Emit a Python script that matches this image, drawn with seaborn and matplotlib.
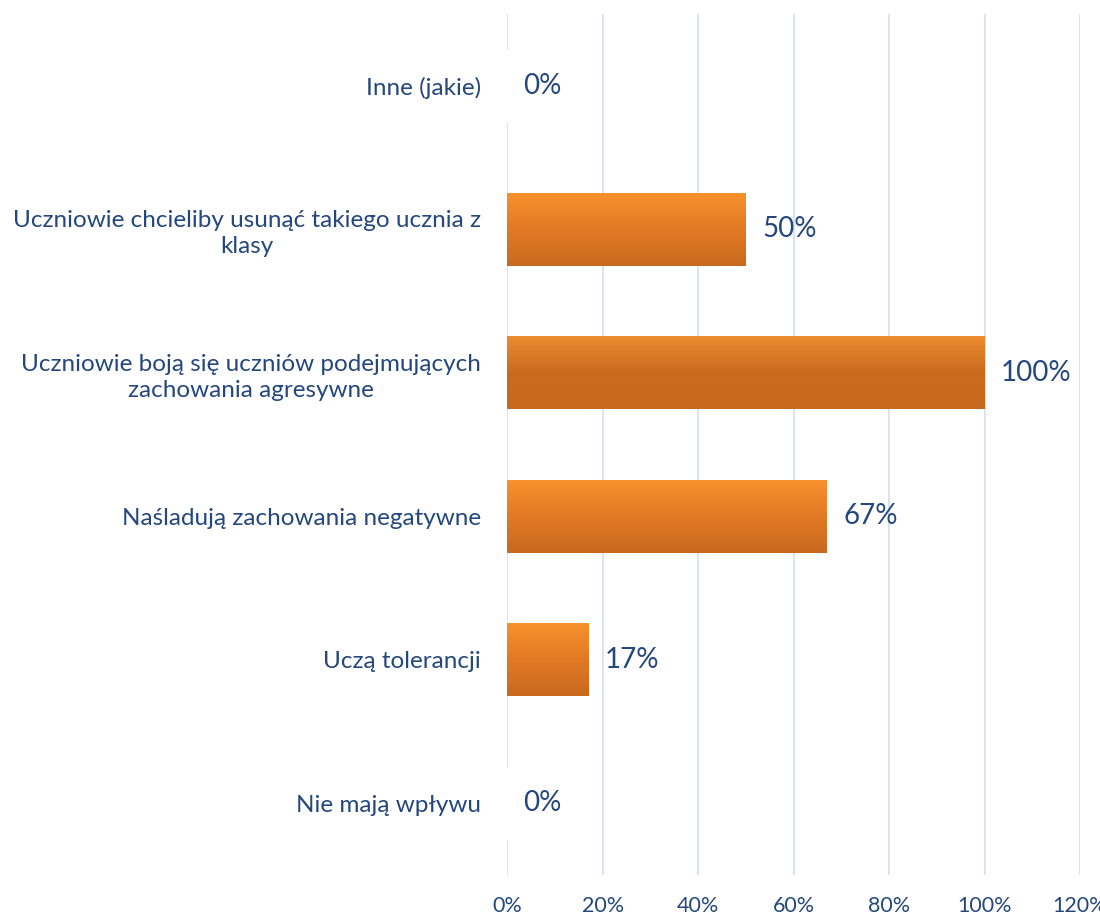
import matplotlib
matplotlib.use("Agg")
import matplotlib.pyplot as plt
import numpy as np
import pandas as pd
import seaborn as sns
from matplotlib.colors import LinearSegmentedColormap

# dane z wykresu (od góry do dołu)
kategorie = [
    "Inne (jakie)",
    "Uczniowie chcieliby usunąć takiego ucznia z\nklasy",
    "Uczniowie boją się uczniów podejmujących\nzachowania agresywne",
    "Naśladują zachowania negatywne",
    "Uczą tolerancji",
    "Nie mają wpływu",
]
wartosci = [0, 50, 100, 67, 17, 0]
x_ticks = [0, 20, 40, 60, 80, 100, 120]

TEXT = "#24477E"
GRID = "#D6E1F1"

sns.set_theme(style="white")
plt.rcParams["font.family"] = ["Lato", "DejaVu Sans"]

df = pd.DataFrame({"kategoria": kategorie, "procent": wartosci})

fig = plt.figure(figsize=(11, 9.16), dpi=100)
ax = fig.add_axes([0.461, 0.0448, 0.5208, 0.9399])

sns.barplot(data=df, y="kategoria", x="procent", orient="h", width=0.51,
            color="#E47F25", ax=ax, zorder=2)

# gradient na słupkach
jasny = LinearSegmentedColormap.from_list("g1", ["#F8922D", "#E27A25", "#C9691F"])
ciemny = LinearSegmentedColormap.from_list("g2", ["#EE8C31", "#CB6B1F", "#C7691E"])
grad = np.linspace(0, 1, 256).reshape(-1, 1)
for i, p in enumerate(ax.patches):
    x0, y0 = p.get_x(), p.get_y()
    w, h = p.get_width(), p.get_height()
    if w <= 0:
        continue
    cmap = ciemny if wartosci[i] == max(wartosci) else jasny
    im = ax.imshow(grad, cmap=cmap, aspect="auto", extent=(x0, x0 + w, y0 + h, y0),
                   zorder=3, interpolation="bicubic")
    im.set_clip_path(p)
    p.set_edgecolor("none")

ax.set_xlim(0, 120)
ax.set_ylim(5.5, -0.5)
ax.set_xticks(x_ticks)
ax.set_xticklabels([f"{t}%" for t in x_ticks])
ax.grid(axis="x", color=GRID, linewidth=1.3, zorder=0)
ax.grid(axis="y", visible=False)
for s in ax.spines.values():
    s.set_visible(False)

ax.set_xlabel("")
ax.set_ylabel("")
ax.tick_params(axis="x", length=0, pad=15, labelsize=15.5, labelcolor=TEXT)
ax.tick_params(axis="y", length=0, pad=19, labelsize=17.5, labelcolor=TEXT)
for lab in ax.get_yticklabels():
    lab.set_multialignment("center")
    lab.set_linespacing(1.3)

for i, v in enumerate(wartosci):
    ax.text(v + 3.4, i, f"{v}%", va="center", ha="left", fontsize=20, color=TEXT, zorder=4)

fig.savefig("out.png", dpi=100)
